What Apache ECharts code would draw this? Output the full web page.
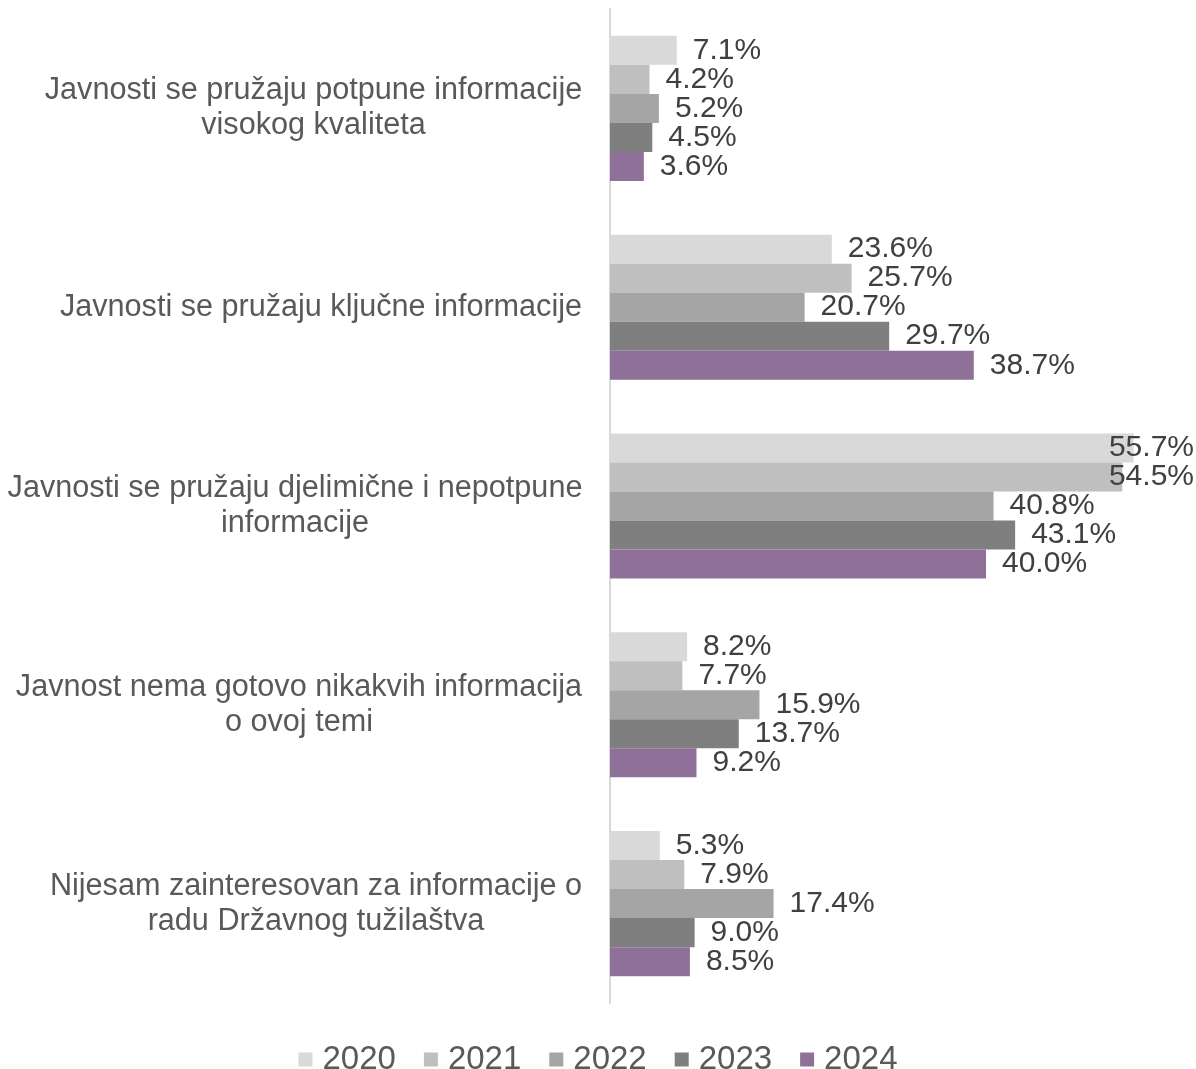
<!DOCTYPE html>
<html>
<head>
<meta charset="utf-8">
<script src="https://cdn.jsdelivr.net/npm/echarts@6/dist/echarts.min.js"></script>
<style>
html,body{margin:0;padding:0;background:#fff;}
#chart{width:1196px;height:1069px;}
</style>
</head>
<body>
<div id="chart"></div>
<script>
var categories = [
  "Javnosti se pružaju potpune informacije\nvisokog kvaliteta",
  "Javnosti se pružaju ključne informacije",
  "Javnosti se pružaju djelimične i nepotpune\ninformacije",
  "Javnost nema gotovo nikakvih informacija\no ovoj temi",
  "Nijesam zainteresovan za informacije o\nradu Državnog tužilaštva"
];
var years = ["2020", "2021", "2022", "2023", "2024"];
var values2020 = [7.1, 23.6, 55.7, 8.2, 5.3];
var values2021 = [4.2, 25.7, 54.5, 7.7, 7.9];
var values2022 = [5.2, 20.7, 40.8, 15.9, 17.4];
var values2023 = [4.5, 29.7, 43.1, 13.7, 9.0];
var values2024 = [3.6, 38.7, 40.0, 9.2, 8.5];
var allValues = [values2020, values2021, values2022, values2023, values2024];
var colors = ["#d9d9d9", "#bfbfbf", "#a5a5a5", "#7f7f7f", "#8e7098"];

var FONT_NAME = "Liberation Sans";
var FONT = "'Liberation Sans', Arial, sans-serif";
var CAT_SIZE = 30.6;
var VAL_SIZE = 30;
var AXIS_MAX = 60;
var LABEL_RIGHT_EDGE = 1194;

// measure category lines so each line is centred inside its own label box
var ctx = document.createElement('canvas').getContext('2d');
ctx.font = CAT_SIZE + "px '" + FONT_NAME + "'";
var rich = {};
categories.forEach(function (c, i) {
  var w = 0;
  c.split('\n').forEach(function (line) { w = Math.max(w, ctx.measureText(line).width); });
  rich['c' + i] = {
    width: Math.ceil(w) + 1,
    align: 'center',
    fontSize: CAT_SIZE,
    lineHeight: 35,
    color: '#595959',
    fontFamily: FONT
  };
});

function valueFormatter(p) { return p.value.toFixed(1) + '%'; }

function buildSeries(offsets) {
  return years.map(function (y, i) {
    return {
      name: y,
      type: 'bar',
      barGap: '0%',
      barCategoryGap: '27%',
      itemStyle: { color: colors[i] },
      label: {
        show: true,
        position: 'right',
        distance: 16,
        color: '#404040',
        fontFamily: FONT,
        fontSize: VAL_SIZE,
        formatter: valueFormatter
      },
      data: allValues[i].map(function (v, j) {
        var key = i + '_' + j;
        if (offsets && offsets[key] !== undefined) {
          return {
            value: v,
            label: { position: 'insideRight', distance: 0, offset: [offsets[key], 0] }
          };
        }
        return v;
      })
    };
  });
}

var chart = echarts.init(document.getElementById('chart'));
var option = {
  animation: false,
  textStyle: { fontFamily: FONT },
  legend: {
    data: years,
    top: 1038,
    left: 'center',
    itemWidth: 14,
    itemHeight: 14,
    itemGap: 28,
    icon: 'rect',
    textStyle: { fontSize: 33, color: '#595959', fontFamily: FONT, padding: [0, 0, 0, 5] }
  },
  grid: { left: 610, right: 22, top: 9, bottom: 66, containLabel: false },
  xAxis: { type: 'value', min: 0, max: AXIS_MAX, show: false },
  yAxis: {
    type: 'category',
    inverse: true,
    data: categories,
    axisLine: { show: true, lineStyle: { color: '#d9d9d9', width: 2 } },
    axisTick: { show: false },
    axisLabel: {
      margin: 27,
      fontSize: CAT_SIZE,
      lineHeight: 35,
      color: '#595959',
      fontFamily: FONT,
      rich: rich,
      formatter: function (v, idx) {
        var k = categories.indexOf(v);
        if (k < 0) k = idx;
        return v.split('\n').map(function (line) { return '{c' + k + '|' + line + '}'; }).join('\n');
      }
    }
  },
  series: buildSeries(null)
};
chart.setOption(option);

// labels that would overflow the chart are pulled back inside (right-aligned at the edge)
ctx.font = VAL_SIZE + "px '" + FONT_NAME + "'";
var offsets = {};
allValues.forEach(function (arr, i) {
  arr.forEach(function (v, j) {
    var barEnd = chart.convertToPixel({ xAxisIndex: 0 }, v);
    var tw = ctx.measureText(v.toFixed(1) + '%').width;
    if (barEnd + 16 + tw > LABEL_RIGHT_EDGE) {
      offsets[i + '_' + j] = LABEL_RIGHT_EDGE - barEnd;
    }
  });
});
option.series = buildSeries(offsets);
chart.setOption(option, true);
</script>
</body>
</html>
